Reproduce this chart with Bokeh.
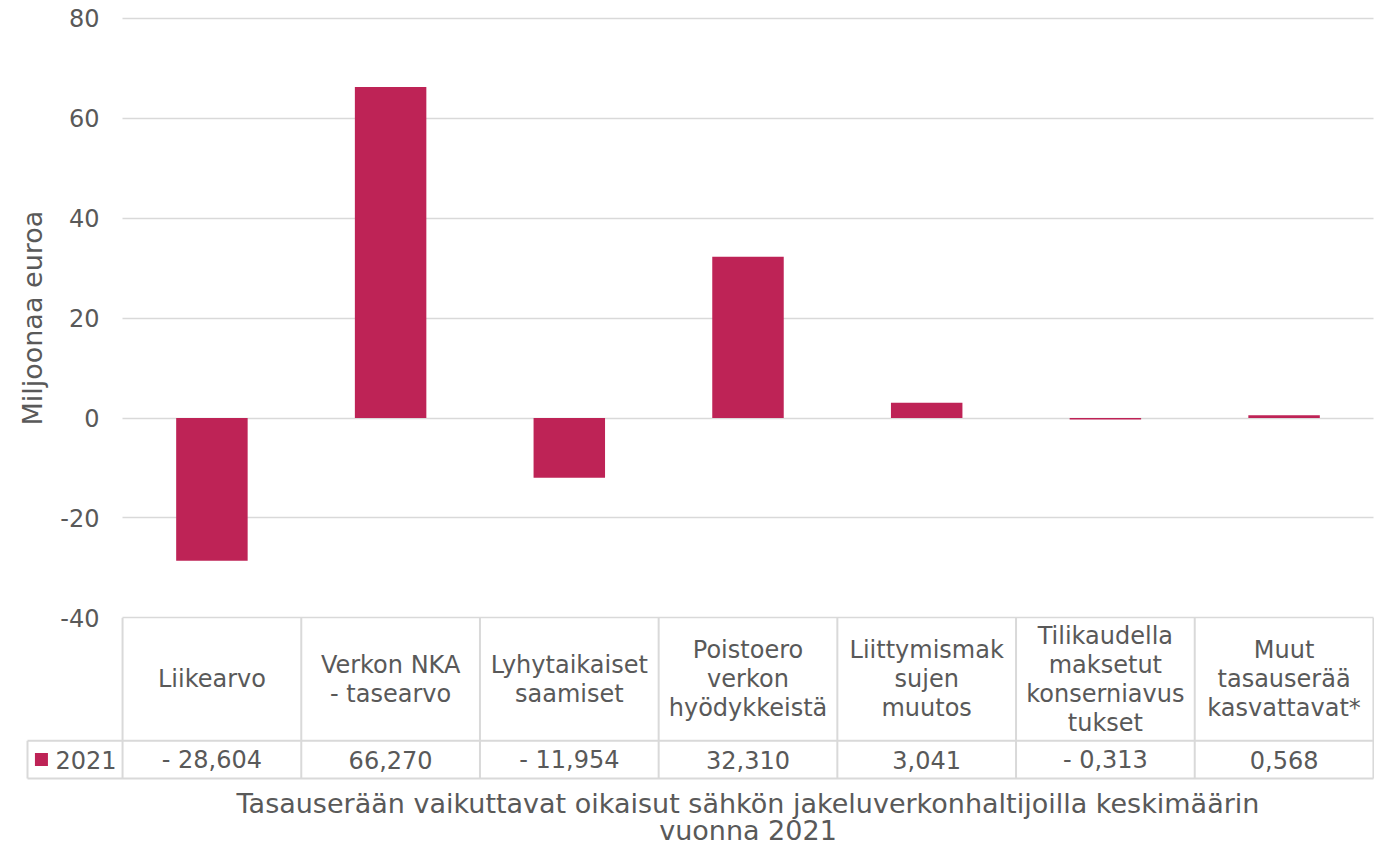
from bokeh.plotting import figure
from bokeh.models import Range1d, FixedTicker, ColumnDataSource
from bokeh.core.properties import value
from bokeh.embed import file_html
from bokeh.resources import INLINE

categories = ["Liikearvo", "Verkon NKA\n- tasearvo", "Lyhytaikaiset\nsaamiset",
              "Poistoero\nverkon\nhyödykkeistä", "Liittymismak\nsujen\nmuutos",
              "Tilikaudella\nmaksetut\nkonserniavus\ntukset", "Muut\ntasauserää\nkasvattavat*"]
values_2021 = [-28.604, 66.270, -11.954, 32.310, 3.041, -0.313, 0.568]
series_name = "2021"
yticks = [-40, -20, 0, 20, 40, 60, 80]
y_title = "Miljoonaa euroa"
chart_title = "Tasauserään vaikuttavat oikaisut sähkön jakeluverkonhaltijoilla keskimäärin\nvuonna 2021"

FONT = "DejaVu Sans"
TXT = "#595959"
GRID = "#D9D9D9"
BAR = "#BE2356"

def fmt(v):
    s = f"{abs(v):.3f}".replace(".", ",")
    return ("- " + s) if v < 0 else s

n = len(categories)
xs = [i + 0.5 for i in range(n)]
x_leg = -0.532

p = figure(width=1374, height=845, x_range=Range1d(x_leg - 15 / 178.7, 7.006), y_range=Range1d(-85.6, 81),
           output_backend="svg", toolbar_location=None,
           min_border_left=12, min_border_right=0, min_border_top=13, min_border_bottom=0)
p.outline_line_color = None
p.background_fill_color = "white"
p.xaxis.visible = False
p.xgrid.visible = False

p.yaxis.ticker = FixedTicker(ticks=yticks)
p.yaxis.major_label_overrides = {t: str(t) for t in yticks}
p.yaxis.major_label_standoff = -93
p.yaxis.major_tick_line_color = None
p.yaxis.minor_tick_line_color = None
p.yaxis.axis_line_color = None
p.yaxis.major_label_text_font = FONT
p.yaxis.major_label_text_font_size = "24px"
p.yaxis.major_label_text_color = TXT

p.ygrid.ticker = FixedTicker(ticks=yticks)
p.ygrid.grid_line_color = GRID
p.ygrid.grid_line_width = 1.5
p.ygrid.cross_bounds = (0, n)

src = ColumnDataSource(dict(x=xs, top=values_2021))
p.vbar(x="x", top="top", bottom=0, width=0.4, source=src, fill_color=BAR, line_color=None)

# data table
y_top = yticks[0]
y_mid = -64.6
y_bot = -72.2
p.segment(x0=[x_leg, x_leg], y0=[y_mid, y_bot], x1=[n, n], y1=[y_mid, y_bot],
          line_color=GRID, line_width=2)
p.segment(x0=list(range(n + 1)), y0=[y_top] * (n + 1), x1=list(range(n + 1)), y1=[y_bot] * (n + 1),
          line_color=GRID, line_width=2)
p.segment(x0=[x_leg], y0=[y_mid], x1=[x_leg], y1=[y_bot], line_color=GRID, line_width=2)

p.text(x=xs, y=[(y_top + y_mid) / 2] * n, text=categories, text_align="center",
       text_baseline="middle", text_font=value(FONT), text_font_size="24px",
       text_color=TXT, text_line_height=1.04)
p.text(x=xs, y=[(y_mid + y_bot) / 2] * n, text=[fmt(v) for v in values_2021], text_align="center",
       text_baseline="middle", text_font=value(FONT), text_font_size="24px", text_color=TXT)

# legend key
p.scatter(x=[x_leg + 0.078], y=[(y_mid + y_bot) / 2], marker="square", size=13,
          fill_color=BAR, line_color=None)
p.text(x=[x_leg + 0.156], y=[(y_mid + y_bot) / 2], text=[series_name], text_align="left",
       text_baseline="middle", text_font=value(FONT), text_font_size="24px", text_color=TXT)

# titles
p.text(x=[n / 2], y=[-79.9], text=[chart_title], text_align="center", text_baseline="middle",
       text_font=value(FONT), text_font_size="27px", text_color=TXT, text_line_height=0.87)
p.text(x=[x_leg + 0.028], y=[20], text=[y_title], angle=1.5708, text_align="center",
       text_baseline="middle", text_font=value(FONT), text_font_size="27px", text_color=TXT)

open("out.html", "w").write(file_html(p, INLINE))
